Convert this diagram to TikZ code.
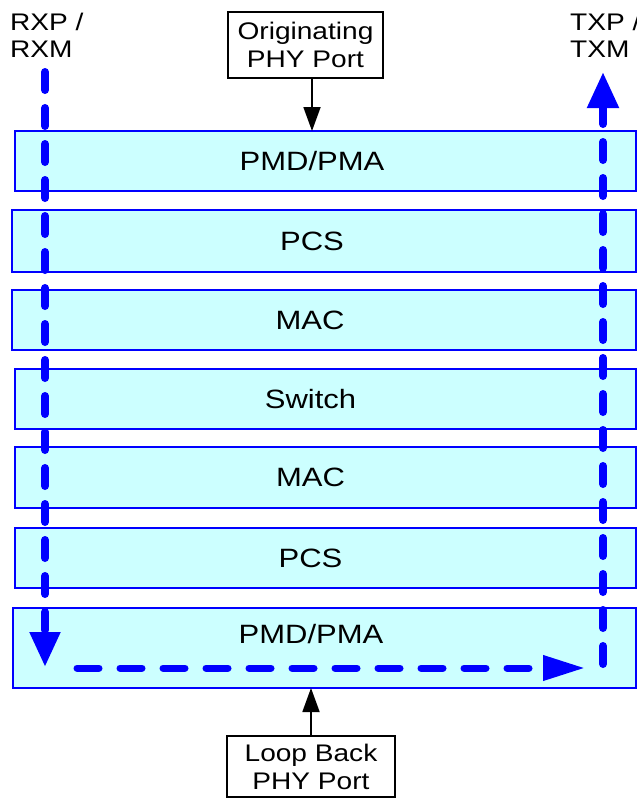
\documentclass[tikz,border=0pt]{standalone}
\usepackage{fontspec}
\newfontfamily\labfont{Liberation Sans}[FakeStretch=1.17]
\usetikzlibrary{arrows.meta}
\definecolor{layerfill}{RGB}{204,255,255}
\tikzset{
  layer/.style={draw=blue, fill=layerfill, line width=1.5pt, rectangle, inner sep=0pt, outer sep=0pt},
  laytext/.style={font=\labfont\fontsize{26.5}{30}\selectfont, text=black},
  portbox/.style={draw=black, fill=white, line width=1.8pt, rectangle, inner sep=0pt, outer sep=0pt, align=center, font=\labfont\fontsize{24}{28}\selectfont},
  sidetext/.style={align=left, inner sep=0pt, font=\labfont\fontsize{24}{27}\selectfont},
  blackarrow/.style={draw=black, line width=1.8pt, -{Triangle[length=24pt,width=17pt]}},
  flow/.style={draw=blue, line width=8pt, line cap=round, dash pattern=on 18pt off 18pt},
  flowh/.style={draw=blue, line width=7pt, line cap=round, dash pattern=on 22pt off 21pt}
}
\begin{document}
\begin{tikzpicture}[x=1pt,y=-1pt]
\useasboundingbox (0,0) rectangle (637,798);
% layers
\node[layer, minimum width=621pt, minimum height=60pt, label={[laytext,xshift=-13.5pt]center:PMD/PMA}] (pmdtop) at (325.5,161) {};
\node[layer, minimum width=624pt, minimum height=62pt, label={[laytext,xshift=-12pt]center:PCS}] (pcstop) at (324,241) {};
\node[layer, minimum width=624pt, minimum height=60pt, label={[laytext,xshift=-14pt]center:MAC}] (mactop) at (324,320) {};
\node[layer, minimum width=621pt, minimum height=60pt, label={[laytext,xshift=-15pt]center:Switch}] (switch) at (325.5,399) {};
\node[layer, minimum width=621pt, minimum height=61pt, label={[laytext,xshift=-15pt]center:MAC}] (macbot) at (325.5,477.5) {};
\node[layer, minimum width=621pt, minimum height=60pt, label={[laytext,xshift=-15pt]center:PCS}] (pcsbot) at (325.5,558) {};
\node[layer, minimum width=623pt, minimum height=80pt, label={[laytext,xshift=-13.5pt,yshift=14pt]center:PMD/PMA}] (pmdbot) at (324.5,648) {};
% port boxes
\node[portbox, minimum width=155pt, minimum height=66pt] (orig) at (305.5,45) {Originating\\PHY Port};
\node[portbox, minimum width=168pt, minimum height=61pt] (loop) at (311,766.5) {Loop Back\\PHY Port};
% side labels
\node[sidetext, anchor=north west] (rx) at (10,13) {RXP /\\RXM};
\node[sidetext, anchor=north west] (tx) at (570,13) {TXP /\\TXM};
% black arrows
\coordinate (origout) at (312,78);
\draw[blackarrow] (origout) -- (origout |- pmdtop.north);
\draw[blackarrow] (loop.north) -- (loop.north |- pmdbot.south);
% blue flow
\coordinate (rxstart) at (45,72);
\coordinate (rxend) at (45,667);
\coordinate (lbstart) at (77,668);
\coordinate (lbend) at (585,668);
\coordinate (txstart) at (603,664);
\coordinate (txend) at (603,72);
\draw[flow, -{Triangle[length=35pt,width=29pt]}] (rxstart) -- (rxend);
\draw[flowh, -{Triangle[length=42pt,width=24pt]}] (lbstart) -- (lbend);
\draw[flow, -{Triangle[length=36pt,width=30pt]}] (txstart) -- (txend);
\end{tikzpicture}
\end{document}
